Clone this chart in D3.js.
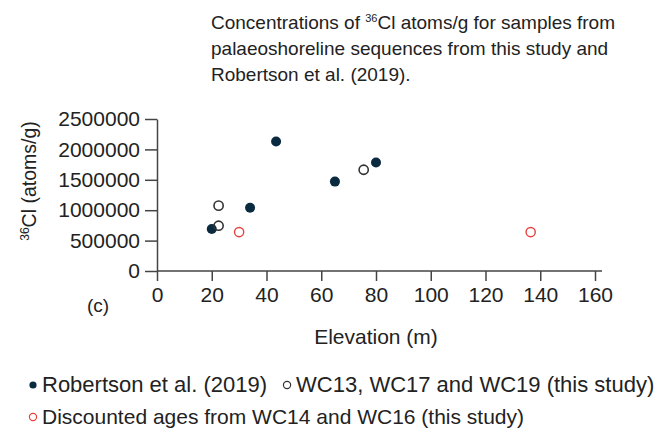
<!DOCTYPE html>
<html>
<head>
<meta charset="utf-8">
<script src="https://cdn.jsdelivr.net/npm/d3@7"></script>
<style>
  body { margin: 0; background: #fff; }
  svg { display: block; font-family: "Liberation Sans", Arial, sans-serif; }
</style>
</head>
<body>
<svg id="chart" width="672" height="437"></svg>
<script>
// Robertson et al. (2019)
const robertsonElev = [20, 34, 43.5, 65, 80];
const robertsonCl = [690000, 1040000, 2130000, 1470000, 1785000];
// WC13, WC17, WC19 (this study)
const studyElev = [22.5, 22.5, 75.5];
const studyCl = [1075000, 745000, 1665000];
// discounted WC14, WC16
const discountElev = [30, 136.5];
const discountCl = [640000, 640000];

const xTicks = [0, 20, 40, 60, 80, 100, 120, 140, 160];
const yTicks = [0, 500000, 1000000, 1500000, 2000000, 2500000];

const navy = '#0a2a40';
const red = '#e8413c';
const ink = '#222';

const svg = d3.select('#chart');

const x = d3.scaleLinear().domain([0, 160]).range([157, 595]);
const y = d3.scaleLinear().domain([0, 2500000]).range([271, 119]);

// title
const title = svg.append('text')
    .attr('y', 29)
    .attr('font-size', 19)
    .attr('fill', ink);
const t1 = title.append('tspan').attr('x', 211);
t1.append('tspan').text('Concentrations of ');
t1.append('tspan').attr('font-size', 11).attr('dy', -7).text('36');
t1.append('tspan').attr('dy', 7).text('Cl atoms/g for samples from');
title.append('tspan').attr('x', 211).attr('dy', 26).text('palaeoshoreline sequences from this study and');
title.append('tspan').attr('x', 211).attr('dy', 26).text('Robertson et al. (2019).');

// y axis
const yAxis = svg.append('g')
    .attr('transform', `translate(${x(0)},0)`)
    .call(d3.axisLeft(y).tickValues(yTicks).tickSize(12).tickSizeOuter(0).tickPadding(5).tickFormat(d3.format('d')));
yAxis.select('.domain').attr('stroke', '#444').attr('stroke-width', 1.5);
yAxis.selectAll('.tick line').attr('stroke', '#444').attr('stroke-width', 1.5);
yAxis.selectAll('.tick text')
    .attr('font-size', 21)
    .attr('fill', ink)
    .attr('font-family', '"Liberation Sans", Arial, sans-serif');

// x axis
const xAxis = svg.append('g')
    .attr('transform', `translate(0,${y(0)})`)
    .call(d3.axisBottom(x).tickValues(xTicks).tickSize(10).tickSizeOuter(0).tickPadding(6));
xAxis.select('.domain').remove();
xAxis.append('line')
    .attr('x1', x(0)).attr('x2', x(160) + 7)
    .attr('stroke', '#444').attr('stroke-width', 1.5);
xAxis.selectAll('.tick line').attr('stroke', '#444').attr('stroke-width', 1.5);
xAxis.selectAll('.tick text')
    .attr('font-size', 21)
    .attr('fill', ink)
    .attr('font-family', '"Liberation Sans", Arial, sans-serif');

// axis titles
svg.append('text')
    .attr('x', (x(0) + x(160)) / 2)
    .attr('y', 344)
    .attr('text-anchor', 'middle')
    .attr('font-size', 21)
    .attr('fill', ink)
    .text('Elevation (m)');

const yTitle = svg.append('text')
    .attr('transform', `translate(36,181) rotate(-90)`)
    .attr('text-anchor', 'middle')
    .attr('font-size', 19.5)
    .attr('fill', ink);
yTitle.append('tspan').attr('font-size', 12).attr('dy', -7).text('36');
yTitle.append('tspan').attr('dy', 7).text('Cl (atoms/g)');

svg.append('text')
    .attr('x', 87)
    .attr('y', 312)
    .attr('font-size', 19)
    .attr('fill', ink)
    .text('(c)');

// points
const plot = svg.append('g');
plot.selectAll('circle.rob')
    .data(d3.zip(robertsonElev, robertsonCl))
    .join('circle')
    .attr('class', 'rob')
    .attr('cx', d => x(d[0]))
    .attr('cy', d => y(d[1]))
    .attr('r', 5)
    .attr('fill', navy);
plot.selectAll('circle.study')
    .data(d3.zip(studyElev, studyCl))
    .join('circle')
    .attr('class', 'study')
    .attr('cx', d => x(d[0]))
    .attr('cy', d => y(d[1]))
    .attr('r', 4.6)
    .attr('fill', 'none')
    .attr('stroke', '#333')
    .attr('stroke-width', 1.6);
plot.selectAll('circle.disc')
    .data(d3.zip(discountElev, discountCl))
    .join('circle')
    .attr('class', 'disc')
    .attr('cx', d => x(d[0]))
    .attr('cy', d => y(d[1]))
    .attr('r', 4.6)
    .attr('fill', 'none')
    .attr('stroke', red)
    .attr('stroke-width', 1.4);

// legend: items chained along each row
const legendRows = [
  {size: 22, items: [{kind: 'filled', label: 'Robertson et al. (2019)'}, {kind: 'open', label: 'WC13, WC17 and WC19 (this study)'}]},
  {size: 21, items: [{kind: 'red', label: 'Discounted ages from WC14 and WC16 (this study)'}]}
];
const leg = svg.append('g').attr('fill', ink);
legendRows.forEach((row, i) => {
  const cy = 385 + i * 32;
  let cx = 33;
  row.items.forEach(item => {
    const m = leg.append('circle').attr('cx', cx).attr('cy', cy).attr('r', 3.6);
    if (item.kind === 'filled') m.attr('fill', navy);
    else m.attr('fill', 'none').attr('stroke', item.kind === 'red' ? red : '#333').attr('stroke-width', 1.2);
    const t = leg.append('text').attr('x', cx + 9).attr('y', cy + 7).attr('font-size', row.size).text(item.label);
    cx += 9 + t.node().getComputedTextLength() + 20;
  });
});
</script>
</body>
</html>
